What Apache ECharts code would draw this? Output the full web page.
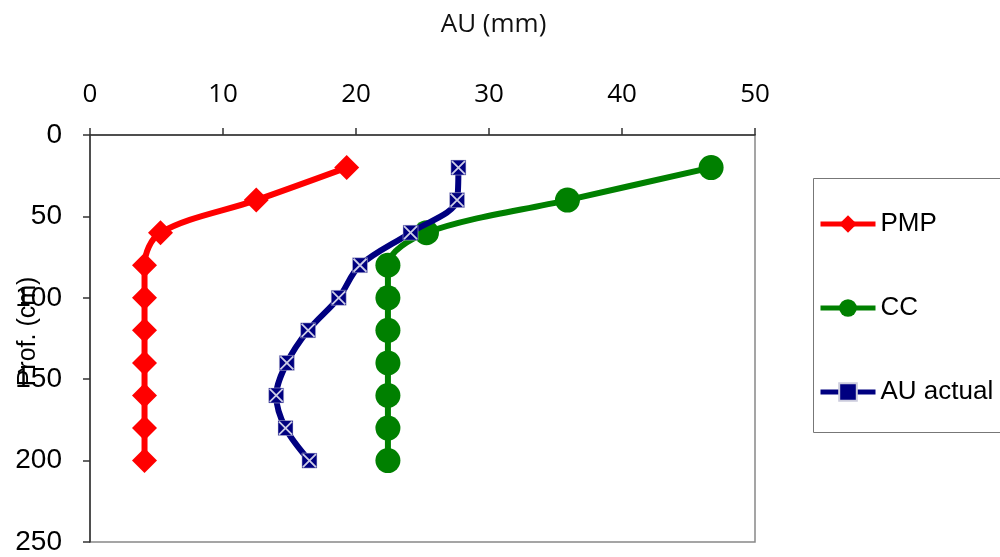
<!DOCTYPE html>
<html><head><meta charset="utf-8">
<script src="https://cdn.jsdelivr.net/npm/echarts@6/dist/echarts.min.js"></script>
<style>html,body{margin:0;padding:0;background:#fff}#c{width:1000px;height:557px}</style>
</head><body><div id="c"></div>
<script>
var depths = [20, 40, 60, 80, 100, 120, 140, 160, 180, 200];
var pmp = [19.3, 12.5, 5.3, 4.1, 4.1, 4.1, 4.1, 4.1, 4.1, 4.1];
var cc = [46.7, 35.9, 25.3, 22.4, 22.4, 22.4, 22.4, 22.4, 22.4, 22.4];
var auActual = [27.7, 27.6, 24.1, 20.3, 18.7, 16.4, 14.8, 14.0, 14.7, 16.5];
var seriesNames = ['PMP', 'CC', 'AU actual'];
function pairs(v){ return v.map(function(x,i){ return [x, depths[i]]; }); }
var chart = echarts.init(document.getElementById('c'));
var F = '"Liberation Sans", Arial, sans-serif';
var F2 = '"Open Sans", "Noto Sans", sans-serif';
chart.setOption({
  animation: false,
  backgroundColor: '#fff',
  grid: {left: 90, right: 245, top: 135, bottom: 15, outerBoundsMode: 'none', containLabel: false,
    show: true, borderColor: '#888', borderWidth: 1.5, backgroundColor: 'transparent'},
  xAxis: {type: 'value', position: 'top', min: 0, max: 50, interval: 10,
    name: 'AU (mm)', nameLocation: 'middle', nameGap: 97, nameMoveOverlap: false,
    nameTextStyle: {fontFamily: F2, fontSize: 26, color: '#111', padding: [0, 0, 0, 142]},
    axisLine: {show: true, lineStyle: {color: '#333', width: 1.5}},
    axisTick: {show: true, length: 7, lineStyle: {color: '#333', width: 1.5}},
    axisLabel: {fontFamily: F2, fontSize: 26, color: '#000', margin: 27},
    splitLine: {show: false}},
  yAxis: {type: 'value', inverse: true, min: 0, max: 250, interval: 50,
    name: 'Prof. (cm)', nameLocation: 'middle', nameGap: 49, nameRotate: 90, nameMoveOverlap: false,
    nameTextStyle: {fontFamily: F, fontSize: 25, color: '#000', padding: [0, 0, 0, 14]},
    axisLine: {show: true, lineStyle: {color: '#333', width: 1.5}},
    axisTick: {show: true, length: 7, lineStyle: {color: '#333', width: 1.5}},
    axisLabel: {fontFamily: F, fontSize: 28, color: '#000', margin: 28},
    splitLine: {show: false}},
  legend: {orient: 'vertical', left: 813, top: 206, itemWidth: 55, itemHeight: 22, itemGap: 58,
    data: seriesNames, lineStyle: {width: 5},
    textStyle: {fontFamily: F, fontSize: 26, color: '#000'}},
  graphic: [{type: 'rect', shape: {x: 813.5, y: 178.5, width: 200, height: 254}, style: {fill: 'none', stroke: '#777', lineWidth: 1}, z: 1}],
  series: [
    {name: seriesNames[0], type: 'line', data: pairs(pmp), smooth: 0.33, color: '#ff0000',
      lineStyle: {width: 6, color: '#ff0000'}, symbol: 'diamond', symbolSize: 25, itemStyle: {color: '#ff0000'}, z: 3},
    {name: seriesNames[1], type: 'line', data: pairs(cc), smooth: 0.33, color: '#008000',
      lineStyle: {width: 6, color: '#008000'}, symbol: 'circle', symbolSize: 25, itemStyle: {color: '#008000'}, z: 3},
    {name: seriesNames[2], type: 'line', data: pairs(auActual), smooth: 0.33, color: '#000080',
      lineStyle: {width: 6, color: '#000080'}, symbol: 'rect', symbolSize: 15, itemStyle: {color: '#000080', borderColor: '#ccd', borderWidth: 0.5}, z: 4},
    {name: 'AU actual X', type: 'scatter', data: pairs(auActual), symbol: 'path://M0,0L10,10M10,0L0,10', symbolSize: 13,
      itemStyle: {color: 'none', borderColor: '#fff', borderWidth: 1.8}, z: 5, silent: true}
  ]
});
</script></body></html>
